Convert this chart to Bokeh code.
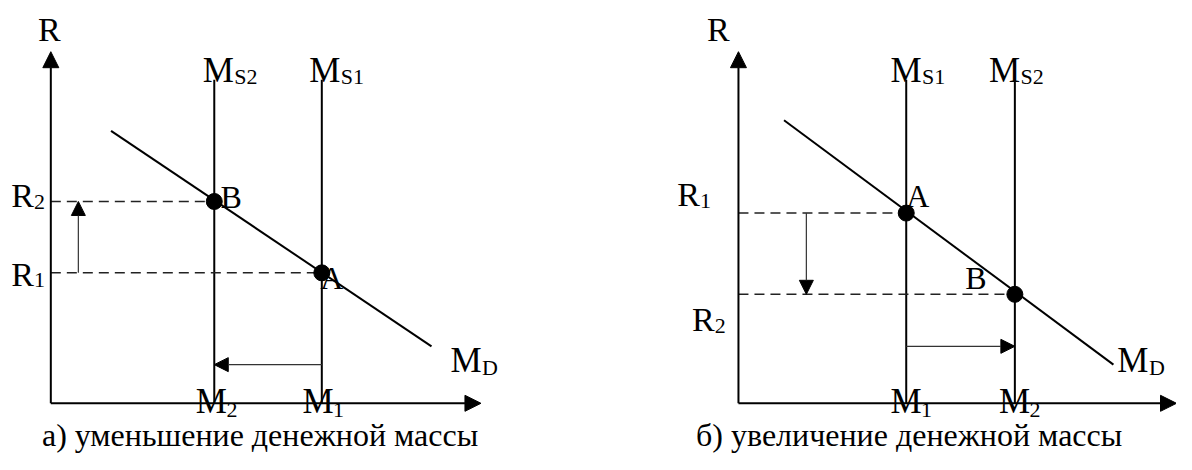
from bokeh.plotting import figure
from bokeh.layouts import row
from bokeh.models import Range1d, Arrow, NormalHead
from bokeh.core.properties import value
from bokeh.embed import file_html
from bokeh.resources import INLINE

FONT = "Liberation Serif"

# ---------------- data (abstract diagram units) ----------------
# panel a: decrease of money supply
a_axis_end = [10.0, 10.0]            # M axis end, R axis end
a_ms_values = [3.8, 6.3]            # M2, M1
a_ms_top = 9.2
a_r_values = [5.74, 3.71]           # R2 (at B), R1 (at A)
a_md_x = [1.40, 8.85]
a_md_y = [7.75, 1.62]
a_shift_r_x = 0.64                  # position of the R-shift arrow
a_shift_m_y = 1.10                  # position of the M-shift arrow

# panel b: increase of money supply
b_axis_end = [10.0, 10.0]
b_ms_values = [3.83, 6.31]          # M1, M2
b_ms_top = 9.2
b_r_values = [5.41, 3.10]           # R1 (at A), R2 (at B)
b_md_x = [1.04, 8.56]
b_md_y = [8.05, 1.10]
b_shift_r_x = 1.55
b_shift_m_y = 1.62

W, H = 588, 454
REF_W, REF_H = 1192, 470
KX = 2 * W / REF_W
KY = H / REF_H
BASE_SHIFT = 0.36   # empirical baseline correction (fraction of font size)


def make_panel(left, ox, oy, sx, sy):
    fox, foy, fsx, fsy = ox * KX, oy * KY, sx * KX, sy * KY
    p = figure(width=W, height=H, output_backend="svg", toolbar_location=None,
               x_range=Range1d((left - fox) / fsx, (left + W - fox) / fsx),
               y_range=Range1d((foy - H) / fsy, foy / fsy),
               min_border=0, outline_line_color=None)
    p.axis.visible = False
    p.grid.visible = False
    p.background_fill_color = "white"
    p.border_fill_color = "white"
    return p


def to_data(px, py, ox, oy, sx, sy):
    return (px - ox) / sx, (oy - py) / sy


def add_texts(p, items, conv):
    for txt, px, py, size in items:
        x, y = conv(px, py - BASE_SHIFT * size / KY)
        p.text(x=[x], y=[y], text=[txt], text_font=value(FONT),
               text_font_size=value(f"{size}px"), text_align="left",
               text_baseline="alphabetic", text_color="black")


def axis_arrows(p, end):
    for xs, ys, xe, ye in [(0, 0, 0, end[1]), (0, 0, end[0], 0)]:
        p.add_layout(Arrow(end=NormalHead(size=16, fill_color="black", line_color="black"),
                           x_start=xs, y_start=ys, x_end=xe, y_end=ye,
                           line_width=2, line_color="black"))


def shift_arrow(p, xs, ys, xe, ye):
    p.add_layout(Arrow(end=NormalHead(size=14, fill_color="black", line_color="black"),
                       x_start=xs, y_start=ys, x_end=xe, y_end=ye,
                       line_width=1.2, line_color="#333333"))


# ---------------- panel a ----------------
ax, ay, asx, asy = 51, 417, 43.6, 36.4
pa = make_panel(0, ax, ay, asx, asy)
axis_arrows(pa, a_axis_end)
for m in a_ms_values:
    pa.line([m, m], [0, a_ms_top], line_color="black", line_width=2)
pa.line(a_md_x, a_md_y, line_color="black", line_width=2)
for m, r in zip(a_ms_values, a_r_values):
    pa.line([0, m], [r, r], line_color="#222222", line_width=1.5, line_dash="10 6")
shift_arrow(pa, a_shift_r_x, a_r_values[1], a_shift_r_x, a_r_values[0])
shift_arrow(pa, a_ms_values[1], a_shift_m_y, a_ms_values[0], a_shift_m_y)
pa.scatter(a_ms_values, a_r_values, size=16, color="black")

conv_a = lambda px, py: to_data(px, py, ax, ay, asx, asy)
add_texts(pa, [
    ("R", 38, 43, 34),
    ("R", 11, 215, 34), ("2", 34, 217, 22),
    ("R", 11, 296, 34), ("1", 34, 298, 22),
    ("M", 205, 85, 35), ("S2", 237, 87, 22),
    ("M", 313, 85, 35), ("S1", 345, 87, 22),
    ("B", 223, 215, 32),
    ("A", 324, 299, 32),
    ("M", 456, 386, 35), ("D", 488, 388, 22),
    ("M", 198, 428, 35), ("2", 229, 432, 22),
    ("M", 306, 428, 35), ("1", 337, 432, 22),
    ("а) уменьшение денежной массы", 42, 462, 32),
], conv_a)

# ---------------- panel b ----------------
bx, by, bsx, bsy = 748, 417, 44.4, 36.4
pb = make_panel(W, bx, by, bsx, bsy)
axis_arrows(pb, b_axis_end)
for m in b_ms_values:
    pb.line([m, m], [0, b_ms_top], line_color="black", line_width=2)
pb.line(b_md_x, b_md_y, line_color="black", line_width=2)
for m, r in zip(b_ms_values, b_r_values):
    pb.line([0, m], [r, r], line_color="#222222", line_width=1.5, line_dash="10 6")
shift_arrow(pb, b_shift_r_x, b_r_values[0], b_shift_r_x, b_r_values[1])
shift_arrow(pb, b_ms_values[0], b_shift_m_y, b_ms_values[1], b_shift_m_y)
pb.scatter(b_ms_values, b_r_values, size=16, color="black")

conv_b = lambda px, py: to_data(px, py, bx, by, bsx, bsy)
add_texts(pb, [
    ("R", 716, 43, 34),
    ("R", 686, 214, 34), ("1", 709, 216, 22),
    ("R", 701, 343, 34), ("2", 724, 345, 22),
    ("M", 902, 85, 35), ("S1", 934, 87, 22),
    ("M", 1002, 85, 35), ("S2", 1034, 87, 22),
    ("A", 918, 214, 32),
    ("B", 978, 299, 32),
    ("M", 1132, 386, 35), ("D", 1164, 388, 22),
    ("M", 902, 428, 35), ("1", 933, 432, 22),
    ("M", 1012, 428, 35), ("2", 1043, 432, 22),
    ("б) увеличение денежной массы", 705, 462, 32),
], conv_b)

layout = row(pa, pb, spacing=0)
open("out.html", "w").write(file_html(layout, INLINE))
